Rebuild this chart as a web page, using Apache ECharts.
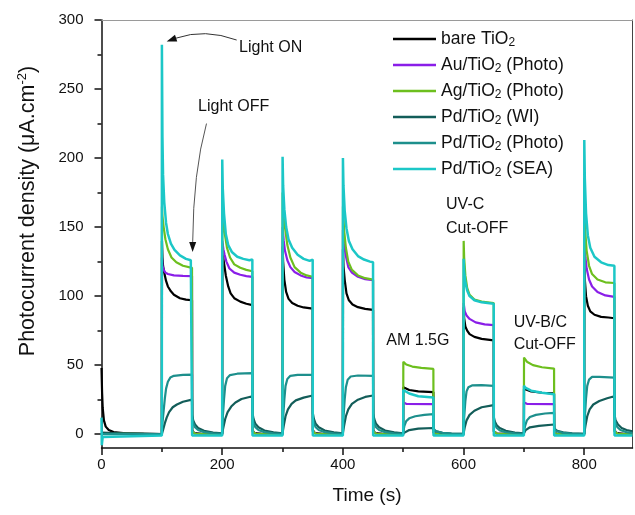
<!DOCTYPE html>
<html>
<head>
<meta charset="utf-8">
<script src="https://cdn.jsdelivr.net/npm/echarts@6/dist/echarts.min.js"></script>
<style>html,body{margin:0;padding:0;background:#fff}#c{width:635px;height:515px}</style>
</head>
<body>
<div id="c"></div>
<script>
// ---- data ----
const seriesNames = ['bare TiO2','Au/TiO2 (Photo)','Ag/TiO2 (Photo)','Pd/TiO2 (WI)','Pd/TiO2 (Photo)','Pd/TiO2 (SEA)'];
const xMajorTicks = [0,200,400,600,800];
const xMinorTicks = [100,300,500,700];
const yMajorTicks = [0,50,100,150,200,250,300];
const yMinorTicks = [25,75,125,175,225,275];

const bareTiO2 = [[0,48],[1,30],[2,19],[4,10],[7,5.5],[12,3],[20,1.5],[40,0.6],[70,0.2],[100,0],
[100.2,140],[101,128],[102,122],[104,117],[107,111],[110,107],[115,103.5],[120,101],[130,98.5],[140,97.5],[150,97],
[150.3,3],[153,1],[165,0.3],[200,0],
[200.2,138],[201,130],[203,124],[206,115],[210,107],[214,102],[220,98.5],[230,96],[240,94.5],[250,93.5],
[250.3,3],[253,1],[265,0.3],[300,0],
[300.2,136],[301,125],[303,112],[306,103],[310,98],[316,95],[325,93],[335,91.8],[350,91],
[350.3,3],[353,1],[365,0.3],[400,0],
[400.2,134],[401,122],[403,112],[406,102],[410,97],[416,94],[425,92],[437,90.8],[450,90],
[450.3,3],[453,1],[465,0.3],[500,0],
[500.2,34],[502,33.5],[510,32],[525,31],[550,30.5],
[550.3,1],[555,0.3],[600,0],
[600.2,92],[601,84],[603,78],[606,75],[610,72.5],[618,70.5],[630,69],[650,68],
[650.3,2],[655,0.5],[700,0],
[700.2,33],[702,32],[712,31],[730,30],[750,29.5],
[750.3,1],[755,0.3],[800,0],
[800.2,130],[801,112],[803,100],[806,93],[810,89],[817,86.5],[828,85],[840,84.5],[850,84],
[850.3,3],[853,1],[865,0.3],[880,0]];

const auPhoto = [[0,1],[2,0],[100,0],
[100.2,128],[101,122],[103,119],[106,117],[110,116],[120,115],[135,114.6],[150,114.5],
[150.3,2],[155,0.5],[200,0],
[200.2,140],[202,134],[204,130],[207,125],[212,120],[220,117],[230,115.5],[240,114.5],[250,114],
[250.3,2],[255,0.5],[300,0],
[300.2,150],[302,140],[304,133],[308,126],[313,121],[320,117.5],[330,115],[340,113.5],[350,113],
[350.3,2],[355,0.5],[400,0],
[400.2,148],[402,138],[405,129],[409,121],[415,117],[425,114],[437,112.3],[450,111.5],
[450.3,2],[455,0.5],[500,0],
[500.2,23],[505,22],[550,21.8],
[550.3,1],[555,0.3],[600,0],
[600.2,95],[602,89],[605,86],[610,83.5],[620,81],[635,79.5],[650,79],
[650.3,2],[655,0.5],[700,0],
[700.2,23],[705,22],[750,21.8],
[750.3,1],[755,0.3],[800,0],
[800.2,140],[802,128],[804,120],[808,112],[813,107],[822,103],[835,100.5],[850,99.5],
[850.3,2],[855,0.5],[880,0]];

const agPhoto = [[0,1],[2,0],[100,0],
[100.2,165],[101,158],[103,150],[106,141],[110,134],[116,128],[124,124.5],[135,122],[150,120.5],
[150.3,2],[155,0.5],[200,0],
[200.2,170],[202,155],[204,146],[208,135],[213,128],[220,123],[230,120.5],[240,119],[250,118],
[250.3,2],[255,0.5],[300,0],
[300.2,175],[302,160],[304,150],[308,137],[313,128],[320,121],[330,117],[340,115],[350,114],
[350.3,2],[355,0.5],[400,0],
[400.2,165],[402,148],[405,135],[409,125],[415,119],[425,115],[437,113],[450,112],
[450.3,2],[455,0.5],[500,0],
[500.2,52.5],[505,50.5],[515,49],[530,48],[550,47.3],
[550.3,1],[555,0.3],[600,0],
[600.2,140],[601,128],[603,115],[606,106],[610,101],[618,97.5],[630,96],[650,95],
[650.3,2],[655,0.5],[700,0],
[700.2,55.5],[705,52.5],[715,50],[730,48.5],[750,47.5],
[750.3,1],[755,0.3],[800,0],
[800.2,160],[802,145],[804,133],[808,122],[813,116],[822,112],[835,110],[850,109.5],
[850.3,2],[855,0.5],[880,0]];

const pdWI = [[0,1],[3,0],[100,0],
[100.2,0.5],[102,3],[105,8],[108,12],[112,16],[118,19.5],[125,21.5],[135,23.5],[150,25],
[150.3,14],[152,10],[155,7],[160,4.5],[170,2.5],[185,1.2],[200,0.6],
[200.2,1],[202,5],[205,11],[209,16],[215,20],[222,23],[232,25.5],[250,27.5],
[250.3,15],[252,11],[255,7.5],[260,5],[270,2.7],[285,1.3],[300,0.6],
[300.2,1],[302,6],[305,13],[309,18],[315,22],[322,24.5],[335,26.5],[350,28],
[350.3,15],[352,11],[355,7.5],[360,5],[370,2.7],[385,1.3],[400,0.6],
[400.2,1],[402,6],[405,13],[409,18],[415,22],[425,25],[437,27],[450,28],
[450.3,15],[452,11],[455,7.5],[460,5],[470,2.7],[485,1.3],[500,0.6],
[500.2,0.8],[503,2],[510,3],[525,4],[550,4.5],
[550.3,3],[555,2],[565,1],[580,0.5],[600,0.3],
[600.2,1],[602,5],[605,10],[610,14],[618,17],[630,19.5],[650,21],
[650.3,12],[652,9],[655,6.5],[660,4.5],[670,2.5],[685,1.2],[700,0.6],
[700.2,0.8],[703,3],[710,5],[725,6],[750,7],
[750.3,4],[755,2.5],[765,1.3],[780,0.6],[800,0.3],
[800.2,1],[802,6],[805,13],[809,18],[815,21.5],[825,24],[838,26],[850,27.5],
[850.3,14],[852,10],[856,7],[862,4.5],[870,3],[880,2]];

const pdPhoto = [[0,0],[100,0],
[100.2,3],[101,8],[103,17],[105,26],[107,33],[110,38],[114,41],[120,42.3],[135,43],[150,43.2],
[150.3,12],[152,8],[155,5],[160,3],[170,1.5],[185,0.7],[200,0.3],
[200.2,4],[201,12],[203,25],[205,35],[208,40.5],[213,42.8],[225,43.8],[250,44.2],
[250.3,12],[252,8],[255,5],[260,3],[270,1.5],[285,0.7],[300,0.3],
[300.2,4],[301,12],[303,25],[305,35],[308,40],[313,42.3],[325,43],[350,43],
[350.3,12],[352,8],[355,5],[360,3],[370,1.5],[385,0.7],[400,0.3],
[400.2,4],[401,12],[403,25],[405,34],[408,39.5],[413,41.8],[425,42.5],[450,42.3],
[450.3,12],[452,8],[455,5],[460,3],[470,1.5],[485,0.7],[500,0.3],
[500.2,2],[502,6],[505,9.5],[510,11.5],[520,13],[535,14],[550,14.5],
[550.3,4],[555,2],[565,1],[580,0.5],[600,0.3],
[600.2,4],[601,12],[603,24],[605,31],[608,34],[614,35.3],[630,35.5],[650,35],
[650.3,10],[652,7],[655,4.5],[660,2.8],[670,1.4],[685,0.7],[700,0.3],
[700.2,2],[702,6],[705,10],[710,12.5],[720,14],[735,15],[750,15.5],
[750.3,4],[755,2],[765,1],[780,0.5],[800,0.3],
[800.2,4],[801,12],[803,26],[805,35],[808,39.5],[813,41.5],[825,41.5],[850,41],
[850.3,12],[852,8],[855,5],[860,3],[870,1.5],[880,0.8]];

const pdSEA = [[0,12],[0.5,-8],[2,-2],[5,-1],[100,-1],
[100.1,282],[101,215],[102,188],[104,168],[107,153],[110,145],[115,138],[121,133.5],[130,129.5],[140,127],[148,126],[150,126.5],
[150.2,-1],[200,-1],
[200.1,199],[201,178],[203,160],[206,145],[210,137],[216,132],[225,128.5],[235,127],[245,126],[250,126.5],
[250.2,-1],[300,-1],
[300.1,201],[301,180],[303,163],[306,150],[310,141],[316,135],[325,130],[335,127],[345,125.5],[350,126.5],
[350.2,-1],[400,-1],
[400.1,200],[401,180],[403,162],[406,149],[410,140],[416,134],[425,129],[435,126.5],[445,125],[450,124.5],
[450.2,-1],[500,-1],
[500.1,32],[503,31],[510,29.5],[525,27.5],[550,26.5],
[550.2,-1],[600,-1],
[600.1,127],[601,118],[603,110],[606,104],[610,100],[618,97],[630,95.5],[650,94.5],
[650.2,-1],[700,-1],
[700.1,35],[703,33.5],[712,31.5],[730,30],[750,29],
[750.2,-1],[800,-1],
[800.1,213],[801,185],[803,160],[806,144],[810,135],[817,128.5],[828,124.5],[840,122.5],[850,122],
[850.2,-1],[880,-1]];

const seriesData = [bareTiO2, auPhoto, agPhoto, pdWI, pdPhoto, pdSEA];

// ---- styling ----
const FONT = '"Liberation Sans", Arial, Helvetica, sans-serif';
const colors = ['#000000','#8a1ee8','#6dbf1e','#135d59','#1d8f8c','#1cc7c7'];
const widths = [2.2,2.2,2.2,2.2,2.2,2.5];
const X_MIN = 0, X_MAX = 880, Y_MIN = -10, Y_MAX = 300;

const chart = echarts.init(document.getElementById('c'), null, {renderer:'canvas'});

const hiddenAxisBase = {axisLabel:{show:false}, splitLine:{show:false}};

const option = {
  animation:false,
  backgroundColor:'#fff',
  grid:{left:101.5, right:2.5, top:20, bottom:67, containLabel:false},
  legend:{
    orient:'vertical', left:388, top:24, itemGap:6, itemWidth:43, itemHeight:12,
    icon:'path://M0,0 L43,0 L43,2.4 L0,2.4 Z',
    data: seriesNames,
    formatter: n => n.replace('TiO2','TiO{s|2}'),
    textStyle:{fontFamily:FONT, fontSize:17.5, color:'#111', lineHeight:20,
      rich:{s:{fontFamily:FONT, fontSize:12, lineHeight:10, verticalAlign:'bottom', color:'#111'}}}
  },
  xAxis:[
    {type:'value', min:X_MIN, max:X_MAX, position:'bottom',
     name:'Time (s)', nameLocation:'middle', nameGap:38,
     nameTextStyle:{fontFamily:FONT, fontSize:19, color:'#111'},
     axisLine:{show:true, onZero:false, lineStyle:{color:'#111', width:1.5}},
     axisTick:{show:true, length:7, customValues:xMajorTicks, lineStyle:{color:'#111', width:1.5}},
     axisLabel:{show:true, customValues:xMajorTicks, margin:9, fontFamily:FONT, fontSize:15, color:'#111'},
     splitLine:{show:false}},
    Object.assign({type:'value', min:X_MIN, max:X_MAX, position:'bottom',
     axisLine:{show:false, onZero:false},
     axisTick:{show:true, length:4, customValues:xMinorTicks, lineStyle:{color:'#111', width:1.5}}}, hiddenAxisBase),
    Object.assign({type:'value', min:X_MIN, max:X_MAX, position:'top',
     axisLine:{show:true, onZero:false, lineStyle:{color:'#9a9a9a', width:1}},
     axisTick:{show:false}}, hiddenAxisBase)
  ],
  yAxis:[
    {type:'value', min:Y_MIN, max:Y_MAX, position:'left',
     name:'Photocurrent density (μA.cm{sup|-2})', nameLocation:'middle', nameGap:60, nameRotate:90,
     nameTextStyle:{fontFamily:FONT, fontSize:21.5, color:'#111', lineHeight:26, padding:[0,0,0,46],
       rich:{sup:{fontFamily:FONT, fontSize:13, lineHeight:14, verticalAlign:'top', color:'#111'}}},
     axisLine:{show:true, onZero:false, lineStyle:{color:'#111', width:1.5}},
     axisTick:{show:true, length:7, customValues:yMajorTicks, lineStyle:{color:'#111', width:1.5}},
     axisLabel:{show:true, customValues:yMajorTicks, margin:18, fontFamily:FONT, fontSize:15, color:'#111'},
     splitLine:{show:false}},
    Object.assign({type:'value', min:Y_MIN, max:Y_MAX, position:'left',
     axisLine:{show:false, onZero:false},
     axisTick:{show:true, length:4, customValues:yMinorTicks, lineStyle:{color:'#111', width:1.5}}}, hiddenAxisBase),
    Object.assign({type:'value', min:Y_MIN, max:Y_MAX, position:'right',
     axisLine:{show:true, onZero:false, lineStyle:{color:'#444', width:1}},
     axisTick:{show:false}}, hiddenAxisBase)
  ],
  series: seriesNames.map((n,i)=>({
    name:n, type:'line', xAxisIndex:0, yAxisIndex:0,
    data: seriesData[i], showSymbol:false, symbol:'none',
    lineStyle:{color:colors[i], width:widths[i]}, itemStyle:{color:colors[i]},
    z: 2+i, silent:true, clip:true
  }))
};
chart.setOption(option);

// ---- annotations (placed in data coordinates through the axes) ----
const px = (t,v) => chart.convertToPixel({xAxisIndex:0, yAxisIndex:0}, [t,v]);
const notes = [
  {t:228, v:280, text:'Light ON'},
  {t:160, v:237, text:'Light OFF'},
  {t:472, v:68,  text:'AM 1.5G'},
  {t:571, v:166, text:'UV-C'},
  {t:571, v:149, text:'Cut-OFF'},
  {t:683, v:81,  text:'UV-B/C'},
  {t:683, v:65,  text:'Cut-OFF'}
];
const arrows = [
  {s:[224,285.5], c:[171,294], e:[108,284.5], color:'#333'},
  {s:[174,225], c:[152,190], e:[151,132], color:'#555'}
];
const graphics = [];
notes.forEach(n=>{
  const p = px(n.t,n.v);
  graphics.push({type:'text', x:p[0], y:p[1], z:50,
    style:{text:n.text, font:'16px ' + FONT, fill:'#111', textAlign:'left', textVerticalAlign:'middle'}});
});
arrows.forEach(a=>{
  const s = px(a.s[0],a.s[1]), c = px(a.c[0],a.c[1]), e = px(a.e[0],a.e[1]);
  const dx = e[0]-c[0], dy = e[1]-c[1], L = Math.hypot(dx,dy);
  const ux = dx/L, uy = dy/L, hl = 10, hw = 3.5;
  const bx = e[0]-ux*hl, by = e[1]-uy*hl;
  graphics.push({type:'bezierCurve', z:50, shape:{x1:s[0],y1:s[1],x2:bx,y2:by,cpx1:c[0],cpy1:c[1]},
    style:{stroke:a.color, lineWidth:1, fill:null}});
  graphics.push({type:'polygon', z:50, shape:{points:[[e[0],e[1]],[bx-uy*hw,by+ux*hw],[bx+uy*hw,by-ux*hw]]},
    style:{fill:'#111'}});
});
chart.setOption({graphic:graphics});
</script>
</body>
</html>
